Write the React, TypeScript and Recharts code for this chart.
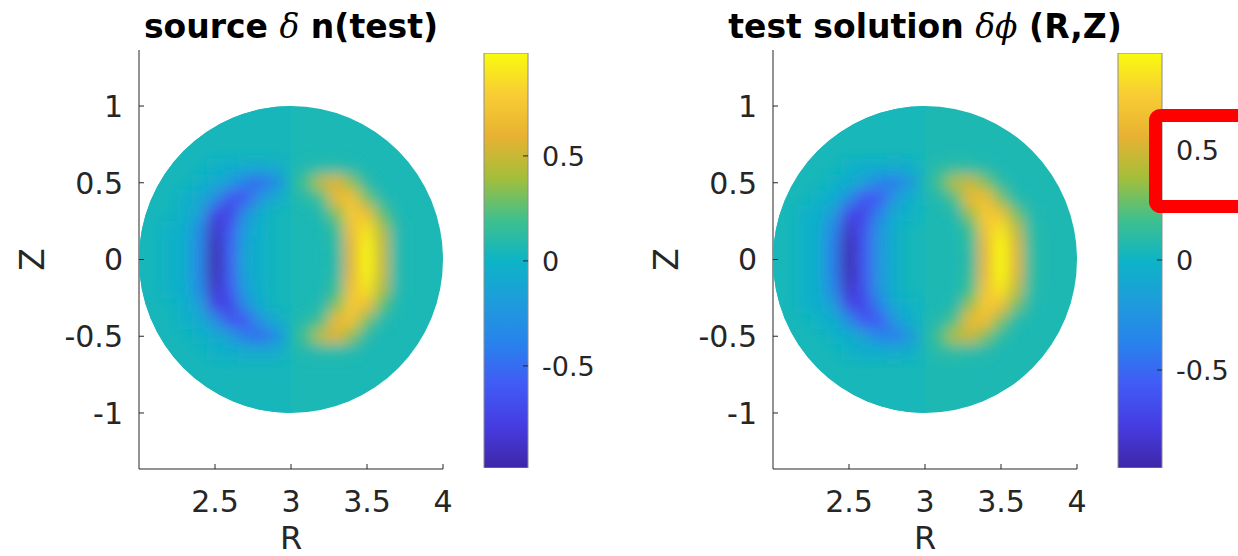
import React from 'react'
import { ScatterChart, Scatter, XAxis, YAxis, BarChart, Bar } from 'recharts'

// axis ticks
const rTicks = [2.5, 3, 3.5, 4]
const zTicks = [-1, -0.5, 0, 0.5, 1]
const barTicks = [-0.5, 0, 0.5]

// sample grid (cell centres), null = plain disk colour
const zRows = [0.6, 0.5, 0.4, 0.3, 0.2, 0.1, 0, -0.1, -0.2, -0.3, -0.4, -0.5, -0.6]
const rColsIn = [2.2, 2.3, 2.4, 2.5, 2.6, 2.7, 2.8, 2.9]
const rColsOut = [3.1, 3.2, 3.3, 3.4, 3.5, 3.6, 3.7, 3.8]

type V = number | null

// source δn(test)
const sourceRange = [-0.986, 0.99]
const sourceDisk = [0.04, 0.06] // R<3 half, R>3 half
const sourceIn: V[][] = [
  [null, null, null, -0.02, -0.04, -0.07, -0.08, -0.06],
  [null, null, -0.02, -0.06, -0.18, -0.42, -0.5, -0.32],
  [null, -0.02, -0.08, -0.28, -0.64, -0.62, -0.25, -0.06],
  [null, -0.03, -0.15, -0.72, -0.74, -0.3, -0.05, null],
  [-0.02, -0.05, -0.32, -0.88, -0.6, -0.18, -0.03, null],
  [-0.02, -0.05, -0.35, -0.95, -0.56, -0.13, -0.02, null],
  [-0.02, -0.05, -0.35, -0.97, -0.55, -0.12, -0.02, null],
  [-0.02, -0.05, -0.35, -0.95, -0.56, -0.13, -0.02, null],
  [-0.02, -0.05, -0.32, -0.88, -0.6, -0.18, -0.03, null],
  [null, -0.03, -0.15, -0.72, -0.74, -0.3, -0.05, null],
  [null, -0.02, -0.08, -0.28, -0.64, -0.62, -0.25, -0.06],
  [null, null, -0.02, -0.06, -0.18, -0.42, -0.5, -0.32],
  [null, null, null, -0.02, -0.04, -0.07, -0.08, -0.06],
]
const sourceOut: V[][] = [
  [0.08, 0.1, 0.1, 0.08, null, null, null, null],
  [0.22, 0.47, 0.57, 0.35, 0.1, null, null, null],
  [0.1, 0.2, 0.64, 0.72, 0.3, 0.08, null, null],
  [null, 0.08, 0.33, 0.77, 0.67, 0.26, null, null],
  [null, null, 0.17, 0.7, 0.88, 0.43, 0.08, null],
  [null, null, 0.11, 0.6, 0.96, 0.5, 0.08, null],
  [null, null, 0.1, 0.58, 0.98, 0.5, 0.08, null],
  [null, null, 0.11, 0.6, 0.96, 0.5, 0.08, null],
  [null, null, 0.17, 0.7, 0.88, 0.43, 0.08, null],
  [null, 0.08, 0.33, 0.77, 0.67, 0.26, null, null],
  [0.1, 0.2, 0.64, 0.72, 0.3, 0.08, null, null],
  [0.22, 0.47, 0.57, 0.35, 0.1, null, null, null],
  [0.08, 0.1, 0.1, 0.08, null, null, null, null],
]

// test solution δϕ(R,Z)
const testRange = [-0.945, 0.94]
const testDisk = [0.04, 0.06]
const testIn: V[][] = [
  [null, null, null, -0.02, -0.05, -0.06, -0.07, -0.05],
  [null, null, -0.02, -0.06, -0.15, -0.36, -0.4, -0.22],
  [null, -0.02, -0.05, -0.3, -0.6, -0.57, -0.22, -0.05],
  [-0.02, -0.04, -0.18, -0.67, -0.7, -0.38, -0.08, -0.02],
  [-0.02, -0.06, -0.35, -0.83, -0.62, -0.25, -0.05, null],
  [-0.02, -0.06, -0.4, -0.91, -0.6, -0.23, -0.05, null],
  [-0.02, -0.06, -0.4, -0.93, -0.58, -0.22, -0.05, null],
  [-0.02, -0.06, -0.4, -0.91, -0.6, -0.23, -0.05, null],
  [-0.02, -0.06, -0.35, -0.83, -0.62, -0.25, -0.05, null],
  [-0.02, -0.04, -0.18, -0.67, -0.7, -0.38, -0.08, -0.02],
  [null, -0.02, -0.05, -0.3, -0.6, -0.57, -0.22, -0.05],
  [null, null, -0.02, -0.06, -0.15, -0.36, -0.4, -0.22],
  [null, null, null, -0.02, -0.05, -0.06, -0.07, -0.05],
]
const testOut: V[][] = [
  [0.1, 0.12, 0.1, 0.08, null, null, null, null],
  [0.2, 0.42, 0.47, 0.3, 0.1, null, null, null],
  [0.08, 0.22, 0.62, 0.64, 0.3, 0.08, null, null],
  [null, 0.08, 0.36, 0.74, 0.64, 0.28, 0.08, null],
  [null, null, 0.18, 0.68, 0.85, 0.45, 0.1, null],
  [null, null, 0.13, 0.6, 0.93, 0.53, 0.12, null],
  [null, null, 0.11, 0.58, 0.95, 0.55, 0.12, null],
  [null, null, 0.13, 0.6, 0.93, 0.53, 0.12, null],
  [null, null, 0.18, 0.68, 0.85, 0.45, 0.1, null],
  [null, 0.08, 0.36, 0.74, 0.64, 0.28, 0.08, null],
  [0.08, 0.22, 0.62, 0.64, 0.3, 0.08, null, null],
  [0.2, 0.42, 0.47, 0.3, 0.1, null, null, null],
  [0.1, 0.12, 0.1, 0.08, null, null, null, null],
]

// parula-like colormap
const PARULA = [
  [62, 38, 168], [70, 60, 225], [65, 90, 246], [40, 130, 236], [30, 156, 220],
  [12, 180, 198], [65, 192, 140], [165, 190, 58], [232, 178, 50], [248, 205, 52], [249, 251, 14],
]
function parula(v: number, lo: number, hi: number) {
  const t = Math.max(0, Math.min(1, (v - lo) / (hi - lo)))
  const p = t * 10
  const i = Math.min(9, Math.floor(p))
  const f = p - i
  const a = PARULA[i], b = PARULA[i + 1]
  const c = a.map((x, k) => Math.round(x + (b[k] - x) * f))
  return `rgb(${c[0]},${c[1]},${c[2]})`
}

const TEXT = '#262626'
const FONT = 'DejaVu Sans'
const PANEL_W = 634
const H = 556
const PLOT_W = 304
const PLOT_H = 419
const R_DOM = [2, 4]
const Z_DOM = [-1.365, 1.365]
const PX_R = PLOT_W / (R_DOM[1] - R_DOM[0])
const PX_Z = PLOT_H / (Z_DOM[1] - Z_DOM[0])
const CELL = 0.1

function toCells(grid: V[][], cols: number[]) {
  const out: { r: number; z: number; v: number }[] = []
  grid.forEach((row, i) =>
    row.forEach((v, j) => {
      if (v !== null) out.push({ r: cols[j], z: zRows[i], v })
    })
  )
  return out
}

const XTick = (p: any) => (
  <g>
    <line x1={p.x} x2={p.x} y1={p.y} y2={p.y - 5} stroke={TEXT} />
    <text x={p.x} y={p.y + 43} textAnchor="middle" fontSize={30} fontFamily={FONT} fill={TEXT}>
      {p.payload.value}
    </text>
  </g>
)

const YTick = (p: any) => (
  <g>
    <line x1={p.x} x2={p.x + 5} y1={p.y} y2={p.y} stroke={TEXT} />
    <text x={p.x - 16} y={p.y} dy="0.36em" textAnchor="end" fontSize={30} fontFamily={FONT} fill={TEXT}>
      {p.payload.value}
    </text>
  </g>
)

const BarTick = (p: any) => (
  <g>
    <line x1={p.x} x2={p.x - 5} y1={p.y} y2={p.y} stroke={TEXT} />
    <text x={p.x + 14} y={p.y} dy="0.36em" textAnchor="start" fontSize={27} fontFamily={FONT} fill={TEXT}>
      {p.payload.value}
    </text>
  </g>
)

function Panel({ left, inner, outer, disk, range, gradId }: any) {
  const [lo, hi] = range
  const cells = [...toCells(inner, rColsIn), ...toCells(outer, rColsOut)]
  const diskShape = (p: any) => {
    const { cx, cy } = p
    return (
      <g>
        <ellipse cx={cx} cy={cy} rx={PX_R} ry={PX_Z} fill={parula(disk[1], lo, hi)} />
        <path
          d={`M${cx},${cy - PX_Z} A${PX_R},${PX_Z} 0 0 0 ${cx},${cy + PX_Z} Z`}
          fill={parula(disk[0], lo, hi)}
        />
      </g>
    )
  }
  const cellShape = (p: any) => {
    const w = CELL * PX_R + 0.6
    const h = CELL * PX_Z + 0.6
    return <rect x={p.cx - w / 2} y={p.cy - h / 2} width={w} height={h} fill={parula(p.payload.v, lo, hi)} />
  }
  const cbLeft = left + 474
  return (
    <>
      <div style={{ position: 'absolute', left, top: 0 }}>
        <ScatterChart width={PANEL_W} height={H} margin={{ top: 50, right: 191, bottom: 47, left: 79 }}>
          <XAxis
            type="number"
            dataKey="r"
            domain={R_DOM}
            ticks={rTicks}
            height={40}
            allowDataOverflow
            stroke={TEXT}
            tickLine={false}
            tickSize={0}
            tickMargin={0}
            tick={XTick}
          />
          <YAxis
            type="number"
            dataKey="z"
            domain={Z_DOM}
            ticks={zTicks}
            width={60}
            allowDataOverflow
            stroke={TEXT}
            tickLine={false}
            tickSize={0}
            tickMargin={0}
            tick={YTick}
          />
          <Scatter data={[{ r: 3, z: 0 }]} shape={diskShape} isAnimationActive={false} />
          <Scatter data={cells} shape={cellShape} className="heat" isAnimationActive={false} />
        </ScatterChart>
      </div>
      <div style={{ position: 'absolute', left: cbLeft, top: 0 }}>
        <BarChart
          width={131}
          height={H}
          data={[{ name: 'cb', span: [lo, hi] }]}
          margin={{ top: 53, right: 0, bottom: 88, left: 10 }}
          barCategoryGap={0}
        >
          <XAxis dataKey="name" hide />
          <Bar dataKey="span" fill={`url(#${gradId})`} stroke="#8c8c8c" strokeWidth={1} isAnimationActive={false} />
          <YAxis
            orientation="right"
            type="number"
            domain={[lo, hi]}
            ticks={barTicks}
            width={77}
            allowDataOverflow
            axisLine={false}
            tickLine={false}
            tickSize={0}
            tickMargin={0}
            tick={BarTick}
          />
        </BarChart>
      </div>
    </>
  )
}

export default function App() {
  return (
    <div style={{ position: 'absolute', left: 0, top: 0, width: 1238, height: H, background: '#fff', overflow: 'hidden' }}>
      <style>{'.heat { filter: url(#heatBlur); }'}</style>
      <svg width={0} height={0} style={{ position: 'absolute' }}>
        <defs>
          <filter id="heatBlur" x="-30%" y="-30%" width="160%" height="160%">
            <feGaussianBlur stdDeviation={7} />
          </filter>
          {['cbSource', 'cbTest'].map((id) => (
            <linearGradient key={id} id={id} x1="0" y1="1" x2="0" y2="0">
              {PARULA.map((c, i) => (
                <stop key={i} offset={i / 10} stopColor={`rgb(${c[0]},${c[1]},${c[2]})`} />
              ))}
            </linearGradient>
          ))}
        </defs>
      </svg>
      <Panel left={0} inner={sourceIn} outer={sourceOut} disk={sourceDisk} range={sourceRange} gradId="cbSource" />
      <Panel left={634} inner={testIn} outer={testOut} disk={testDisk} range={testRange} gradId="cbTest" />
      <svg width={1238} height={H} style={{ position: 'absolute', left: 0, top: 0, pointerEvents: 'none' }}>
        <text x={291} y={38} textAnchor="middle" fontFamily={FONT} fontWeight="bold" fontSize={33} fill="#000">
          {'source '}
          <tspan fontFamily="DejaVu Serif" fontStyle="italic" fontWeight="normal">δ</tspan>
          {' n(test)'}
        </text>
        <text x={925} y={38} textAnchor="middle" fontFamily={FONT} fontWeight="bold" fontSize={33} fill="#000">
          {'test solution '}
          <tspan fontFamily="DejaVu Serif" fontStyle="italic" fontWeight="normal">δϕ</tspan>
          {' (R,Z)'}
        </text>
        {[0, 634].map((dx) => (
          <g key={dx}>
            <text x={291 + dx} y={549} textAnchor="middle" fontFamily={FONT} fontSize={32} fill={TEXT}>R</text>
            <text
              x={32 + dx}
              y={259.5}
              dy="0.36em"
              textAnchor="middle"
              fontFamily={FONT}
              fontSize={33}
              fill={TEXT}
              transform={`rotate(-90 ${32 + dx} 259.5)`}
            >
              Z
            </text>
          </g>
        ))}
        <rect x={1155.5} y={115.5} width={200} height={91} rx={5} fill="none" stroke="#ff0000" strokeWidth={13} />
      </svg>
    </div>
  )
}
